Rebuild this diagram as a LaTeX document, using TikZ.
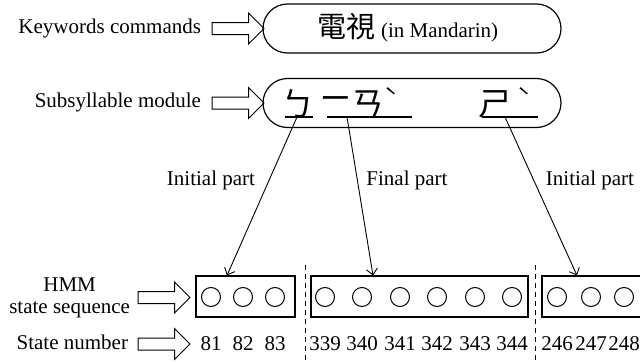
\documentclass[tikz,border=0pt]{standalone}
\usepackage{fontspec}
\setmainfont{Liberation Serif}
\newfontfamily\cjk{Noto Sans CJK TC}
\usetikzlibrary{arrows.meta, shapes.arrows}

\begin{document}
\begin{tikzpicture}[x=1pt,y=-1pt,
    every node/.style={font=\fontsize{21}{22}\selectfont, inner sep=0pt, outer sep=0pt}]
  \tikzstyle{pill}=[draw, line width=1.2pt, rounded corners=24.5pt, minimum width=298pt, minimum height=49pt]
  \tikzstyle{hollow}=[draw, line width=1pt, single arrow, single arrow head extend=9.5pt, inner xsep=0pt, inner ysep=5.5pt, minimum height=52pt, anchor=tail]
  \tikzstyle{seqbox}=[draw, line width=1.2pt, minimum height=41pt]
  \tikzstyle{hmmstate}=[circle, draw, line width=1pt, minimum size=19pt]
  \tikzstyle{bpmf}=[font=\cjk\fontsize{33}{34}\selectfont]
  \tikzstyle{tone}=[font=\cjk\fontsize{22}{24}\selectfont]
  \tikzstyle{link}=[line width=0.9pt, -{Straight Barb[length=6pt,width=11pt]}]
  \tikzstyle{divider}=[line width=1pt, dash pattern=on 5pt off 4pt]

  \clip (0,0) rectangle (640,364);

  % keyword and subsyllable rows
  \node[anchor=base east] (kwlabel) at (201,34) {Keywords commands};
  \node[hollow] (kwarrow) at (212,28.5) {};
  \node[pill] (kwpill) at (412,28.5) {};
  \node (kwtext) at (408,28) {{\cjk\fontsize{29}{30}\selectfont 電視} (in Mandarin)};

  \node[anchor=base east] (sublabel) at (201,107) {Subsyllable module};
  \node[hollow] (subarrow) at (212,103) {};
  \node[pill] (subpill) at (412,103) {};

  \node[bpmf] (b) at (298,104) {ㄅ};
  \node[bpmf] (i) at (336,104) {ㄧ};
  \node[bpmf] (an) at (368,104) {ㄢ};
  \node[tone] (t1) at (391,97) {ˋ};
  \node[bpmf] (sh) at (495,104) {ㄕ};
  \node[tone] (t2) at (524,97) {ˋ};

  \coordinate (ubL) at (285,117);  \coordinate (ubR) at (313,117);
  \coordinate (uiL) at (327,117);  \coordinate (uiR) at (412,117);
  \coordinate (usL) at (482,117);  \coordinate (usR) at (538,117);
  \draw[line width=1.1pt] (ubL) -- (ubR) (uiL) -- (uiR) (usL) -- (usR);

  % HMM state sequence
  \node[align=center, anchor=east] (hmmlabel) at (130,298) {HMM\\state sequence};
  \node[hollow] (hmmarrow) at (138,297.5) {};
  \node[anchor=base east] (numlabel) at (128,349) {State number};
  \node[hollow] (numarrow) at (138,344) {};

  \node[seqbox, minimum width=99pt] (seq1) at (245.5,296.5) {};
  \node[seqbox, minimum width=217pt] (seq2) at (419.5,296.5) {};
  \node[seqbox, minimum width=140pt] (seq3) at (612,296.5) {};

  \foreach \x/\n [count=\i] in {211/81, 243/82, 275/83, 325/339, 362/340, 400/341,
      437/342, 475/343, 512/344, 557/246, 591/247, 624/248}
  {
    \node[hmmstate] (st\i) at (\x,297) {};
    \node (num\i) at (\x,343.5) {\n};
  }

  \coordinate (d1top) at (305,265);  \coordinate (d1bot) at (305,370);
  \coordinate (d2top) at (535,265);  \coordinate (d2bot) at (535,370);
  \draw[divider] (d1top) -- (d1bot);
  \draw[divider] (d2top) -- (d2bot);

  % links from subsyllables to states
  \coordinate (fb) at (297,117);   \coordinate (tb) at (227,275.5);
  \coordinate (fi) at (347,117);   \coordinate (ti) at (373,275.5);
  \coordinate (fs) at (505,117);   \coordinate (ts) at (577,275.5);
  \path[link] (fb) edge (tb);
  \path[link] (fi) edge (ti);
  \path[link] (fs) edge (ts);

  \node[anchor=base] (initA) at (211,185) {Initial part};
  \node[anchor=base] (final) at (407,185) {Final part};
  \node[anchor=base] (initB) at (590,185) {Initial part};
\end{tikzpicture}
\end{document}
